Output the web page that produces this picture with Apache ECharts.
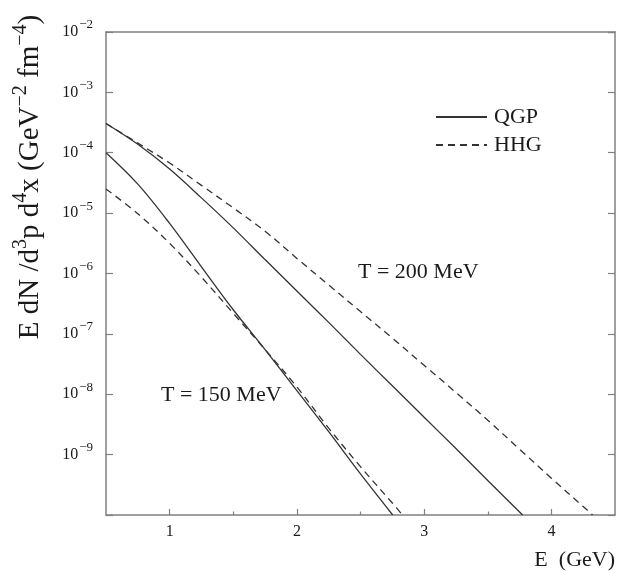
<!DOCTYPE html>
<html>
<head>
<meta charset="utf-8">
<script src="https://cdn.jsdelivr.net/npm/echarts@6/dist/echarts.min.js"></script>
<style>
  html, body { margin: 0; padding: 0; background: #fff; }
  #chart { width: 619px; height: 571px; }
</style>
</head>
<body>
<div id="chart"></div>
<script>
// Photon emission rates vs photon energy, QGP and hot hadron gas, two temperatures
const energyQGP200 = [0.5, 0.75, 1.0, 1.25, 1.5, 1.75, 2.0, 2.25, 2.5, 2.75, 3.0, 3.25, 3.5, 3.774];
const rateQGP200 = [3.05e-4, 1.38e-4, 5.37e-5, 1.79e-5, 5.70e-6, 1.70e-6, 5.13e-7, 1.55e-7, 4.57e-8, 1.38e-8, 4.17e-9, 1.26e-9, 3.72e-10, 1.0e-10];

const energyHHG200 = [0.5, 0.75, 1.0, 1.25, 1.5, 1.75, 2.0, 2.25, 2.5, 2.75, 3.0, 3.25, 3.5, 3.75, 4.0, 4.25, 4.324];
const rateHHG200 = [3.05e-4, 1.445e-4, 6.76e-5, 2.88e-5, 1.22e-5, 5.01e-6, 1.78e-6, 6.46e-7, 2.34e-7, 8.51e-8, 3.02e-8, 1.07e-8, 3.72e-9, 1.23e-9, 4.07e-10, 1.38e-10, 1.0e-10];

const energyQGP150 = [0.5, 0.75, 1.0, 1.25, 1.5, 1.75, 2.0, 2.25, 2.5, 2.753];
const rateQGP150 = [1.0e-4, 3.02e-5, 6.76e-6, 1.29e-6, 2.51e-7, 5.50e-8, 1.15e-8, 2.40e-9, 4.79e-10, 1.0e-10];

const energyHHG150 = [0.5, 0.75, 1.0, 1.25, 1.5, 1.75, 2.0, 2.25, 2.5, 2.75, 2.83];
const rateHHG150 = [2.51e-5, 9.77e-6, 3.16e-6, 8.71e-7, 2.19e-7, 5.50e-8, 1.32e-8, 2.75e-9, 6.31e-10, 1.58e-10, 1.0e-10];

const xMajorTicks = [1, 2, 3, 4];
const xMinorTicks = [1.5, 2.5, 3.5];
const legendNames = ['QGP', 'HHG'];
const curveLabels = ['T = 200 MeV', 'T = 150 MeV'];

const SERIF = '"Liberation Serif", "DejaVu Serif", serif';
const INK = '#1a1a1a';
const CURVE = '#333';
const FRAME = '#808080';

function pairs(xs, ys) { return xs.map((x, i) => [x, ys[i]]); }

const chart = echarts.init(document.getElementById('chart'), null, { renderer: 'canvas' });

const xBase = { type: 'value', min: 0.5, max: 4.5, splitLine: { show: false } };
const yBase = { type: 'log', logBase: 10, min: 1e-10, max: 1e-2, interval: 1, splitLine: { show: false } };
const frameLine = { show: true, lineStyle: { color: FRAME, width: 1.5 } };

function lineSeries(name, xs, ys, dashed) {
  return {
    name: name,
    type: 'line',
    data: pairs(xs, ys),
    smooth: 0.35,
    symbol: 'none',
    showSymbol: false,
    silent: true,
    animation: false,
    lineStyle: { color: CURVE, width: 1.3, type: dashed ? [7, 5] : 'solid' },
    itemStyle: { color: CURVE }
  };
}

chart.setOption({
  animation: false,
  backgroundColor: '#fff',
  grid: { left: 106, right: 4, top: 32, bottom: 54, containLabel: false },
  xAxis: [
    Object.assign({}, xBase, {
      position: 'bottom',
      axisLine: frameLine,
      axisTick: { show: true, inside: true, length: 6, customValues: xMajorTicks, lineStyle: { color: FRAME, width: 1.2 } },
      axisLabel: { show: true, customValues: xMajorTicks, margin: 9, fontFamily: SERIF, fontSize: 16, color: INK },
      name: 'E  (GeV)',
      nameLocation: 'end',
      nameGap: 0,
      nameTextStyle: { fontFamily: SERIF, fontSize: 22, color: INK, align: 'right', verticalAlign: 'top', padding: [34, 0, 0, 0] }
    }),
    Object.assign({}, xBase, {
      position: 'bottom',
      axisLine: { show: false },
      axisTick: { show: true, inside: true, length: 3.5, customValues: xMinorTicks, lineStyle: { color: FRAME, width: 1.2 } },
      axisLabel: { show: false }
    }),
    Object.assign({}, xBase, {
      position: 'top',
      axisLine: frameLine,
      axisTick: { show: false },
      axisLabel: { show: false }
    })
  ],
  yAxis: [
    Object.assign({}, yBase, {
      position: 'left',
      axisLine: frameLine,
      axisTick: { show: true, inside: true, length: 7, lineStyle: { color: FRAME, width: 1.2 } },
      axisLabel: {
        show: true,
        margin: 13,
        formatter: function (v) {
          const e = Math.round(Math.log10(v));
          if (e <= -10) return '';
          return '{b|10}{s|\u2212' + Math.abs(e) + '}';
        },
        rich: {
          b: { fontFamily: SERIF, fontSize: 16, color: INK },
          s: { fontFamily: SERIF, fontSize: 13, color: INK, padding: [0, 0, 14, 1] }
        }
      }
    }),
    Object.assign({}, yBase, {
      position: 'right',
      axisLine: frameLine,
      axisTick: { show: true, inside: true, length: 7, lineStyle: { color: FRAME, width: 1.2 } },
      axisLabel: { show: false }
    })
  ],
  legend: {
    data: legendNames,
    orient: 'vertical',
    left: 430,
    top: 101,
    itemWidth: 51,
    itemHeight: 14,
    itemGap: 6,
    selectedMode: false,
    itemStyle: { opacity: 0 },
    textStyle: { fontFamily: SERIF, fontSize: 22, color: INK, padding: [0, 0, 0, 2] }
  },
  series: [
    lineSeries('QGP', energyQGP200, rateQGP200, false),
    lineSeries('HHG', energyHHG200, rateHHG200, true),
    lineSeries('QGP', energyQGP150, rateQGP150, false),
    lineSeries('HHG', energyHHG150, rateHHG150, true)
  ],
  graphic: [
    {
      type: 'text',
      x: 30, y: 177,
      rotation: Math.PI / 2,
      style: {
        text: '{a|E dN /d}{s|3}{a|p d}{s|4}{a|x (GeV}{s|\u22122}{a| fm}{s|\u22124}{a|)}',
        align: 'center',
        verticalAlign: 'middle',
        rich: {
          a: { fontFamily: SERIF, fontSize: 29, fill: INK },
          s: { fontFamily: SERIF, fontSize: 20, fill: INK, padding: [0, 0, 18, 0] }
        }
      }
    },
    {
      type: 'text',
      x: 358, y: 272,
      style: { text: curveLabels[0], fontFamily: SERIF, fontSize: 22, fill: INK, verticalAlign: 'middle' }
    },
    {
      type: 'text',
      x: 161, y: 395,
      style: { text: curveLabels[1], fontFamily: SERIF, fontSize: 22, fill: INK, verticalAlign: 'middle' }
    }
  ]
});
</script>
</body>
</html>
